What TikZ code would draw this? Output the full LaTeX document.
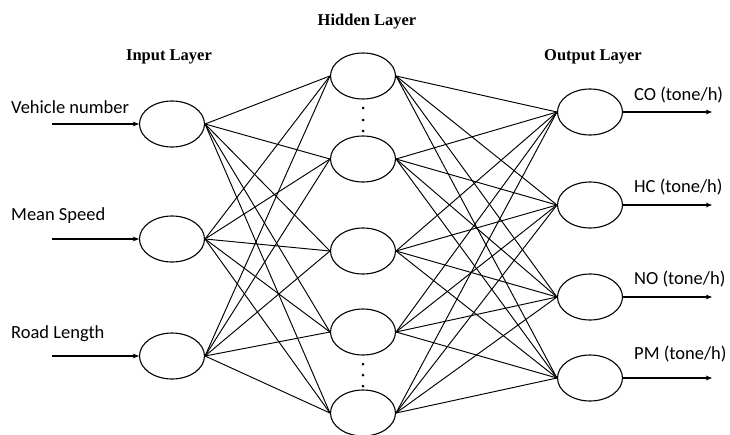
\documentclass[tikz,border=0pt]{standalone}
\usepackage{fontspec}
\setmainfont{Carlito}
\newfontfamily\ttlfont{Liberation Serif}
\usetikzlibrary{arrows.meta,shapes.geometric}

\begin{document}
\begin{tikzpicture}[x=1pt,y=-1pt,>={Stealth[length=2.2mm,width=1.7mm]},
  neuron/.style={draw,ellipse,line width=1.1pt,minimum width=65pt,minimum height=46pt,inner sep=0pt},
  link/.style={line width=0.95pt},
  feed/.style={->,line width=1.4pt},
  lbl/.style={font=\fontsize{18.5}{22}\selectfont,anchor=west,inner sep=0pt},
  ttl/.style={font=\ttlfont\bfseries\fontsize{16.5}{19}\selectfont,inner sep=0pt}]
  \useasboundingbox (0,0) rectangle (730,434);
  % layer titles
  \node[ttl] (tin) at (169,57) {Input Layer};
  \node[ttl] (thd) at (367,22) {Hidden Layer};
  \node[ttl] (tout) at (593,57) {Output Layer};
  % neurons
  \node[neuron] (in1) at (172,124) {};
  \node[neuron] (in2) at (172,239) {};
  \node[neuron] (in3) at (172,356) {};
  \node[neuron] (hd1) at (363,76) {};
  \node[neuron] (hd2) at (363,159) {};
  \node[neuron] (hd3) at (363,251) {};
  \node[neuron] (hd4) at (363,332) {};
  \node[neuron] (hd5) at (363,413) {};
  \node[neuron] (out1) at (590,112) {};
  \node[neuron] (out2) at (590,205) {};
  \node[neuron] (out3) at (590,297) {};
  \node[neuron] (out4) at (590,378) {};
  % dots between hidden neurons
  \foreach \y in {108,120,131,364,375,386}
    \fill (363,\y) circle (1.5pt);
  % weights
  \foreach \i in {1,2,3}
    \foreach \j in {1,...,5}
      \draw[link] (in\i.east) -- (hd\j.west);
  \foreach \j in {1,...,5}
    \foreach \k in {1,...,4}
      \draw[link] (hd\j.east) -- (out\k.west);
  % inputs
  \coordinate (src1) at (52,124);
  \coordinate (src2) at (52,239);
  \coordinate (src3) at (52,356);
  \foreach \i in {1,2,3}
    \draw[feed] (src\i) -- (in\i.west);
  \node[lbl] (vnum) at (11,107) {Vehicle number};
  \node[lbl] (mspd) at (11,216) {Mean Speed};
  \node[lbl] (rlen) at (11,334) {Road Length};
  % outputs
  \coordinate (snk1) at (712,112);
  \coordinate (snk2) at (712,205);
  \coordinate (snk3) at (712,297);
  \coordinate (snk4) at (712,378);
  \foreach \k in {1,...,4}
    \draw[feed] (out\k.east) -- (snk\k);
  \node[lbl] (co) at (634,95) {CO (tone/h)};
  \node[lbl] (hc) at (634,187) {HC (tone/h)};
  \node[lbl] (no) at (634,279) {NO (tone/h)};
  \node[lbl] (pm) at (634,354) {PM (tone/h)};
\end{tikzpicture}
\end{document}
